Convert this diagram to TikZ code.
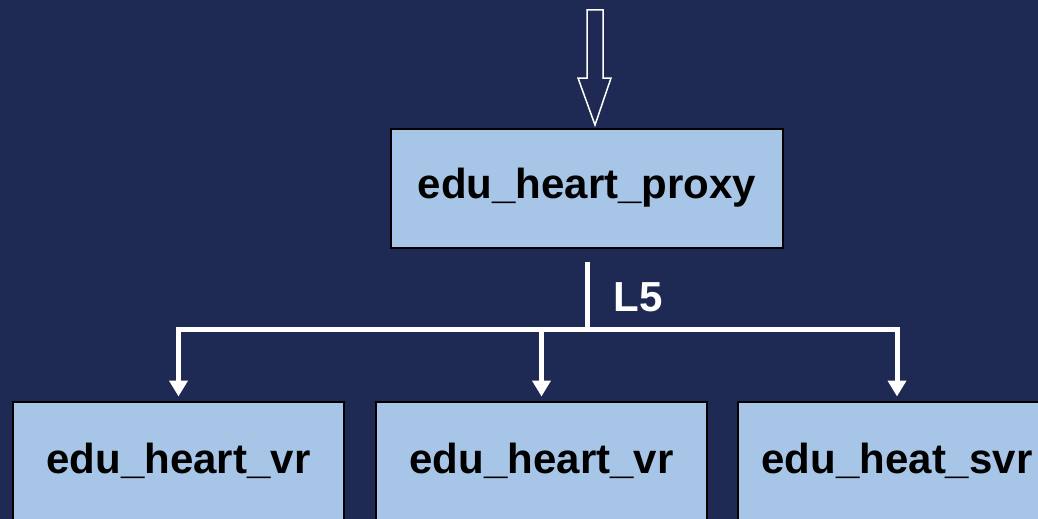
\documentclass[tikz,border=0pt]{standalone}
\usepackage{fontspec}
\setmainfont{Liberation Sans}
\usetikzlibrary{arrows.meta}
\usetikzlibrary{positioning}

\definecolor{navybg}{RGB}{31,42,84}
\definecolor{boxblue}{RGB}{167,197,230}

\tikzset{
  module/.style={draw=black,line width=2pt,fill=boxblue,rectangle,
    minimum height=119pt,inner sep=0pt,
    font=\fontsize{42}{50}\selectfont\bfseries},
  link/.style={draw=white,line width=5pt},
  drop/.style={link,-{Triangle[width=18pt,length=16pt]},shorten >=4pt}
}

\begin{document}
\begin{tikzpicture}[x=1pt,y=-1pt]

  \useasboundingbox (0,0) rectangle (1038,519);
  \fill [navybg] (0,0) rectangle (1038,519);
  \clip (0,0) rectangle (1038,519);

  \node [module,minimum width=392pt] (proxy) at (587,188) {edu\_heart\_proxy};

  \node [module,minimum width=331pt] (vr_1) at (178.5,461) {edu\_heart\_vr};
  \node [module,minimum width=331pt] (vr_2) at (541.5,461) {edu\_heart\_vr};
  \node [module,minimum width=318pt] (svr) at (897,461) {edu\_heat\_svr};

  % hollow input arrow
  \draw [white,line width=1.5pt,fill=navybg,line join=miter]
    (587,10) -- (603,10) -- (603,78) -- (611,78) -- (595,125)
    -- (578,78) -- (587,78) -- cycle;

  \coordinate (split) at (587,329);

  \path [link] ([yshift=-13pt]proxy.south) -- (split);
  \node [anchor=west,text=white,font=\fontsize{42}{50}\selectfont\bfseries]
    (l5) at (610,297) {L5};

  \path [drop] (split) -| (vr_1.north);
  \path [drop] (split) -| (vr_2.north);
  \path [drop] (split) -| (svr.north);

\end{tikzpicture}
\end{document}
